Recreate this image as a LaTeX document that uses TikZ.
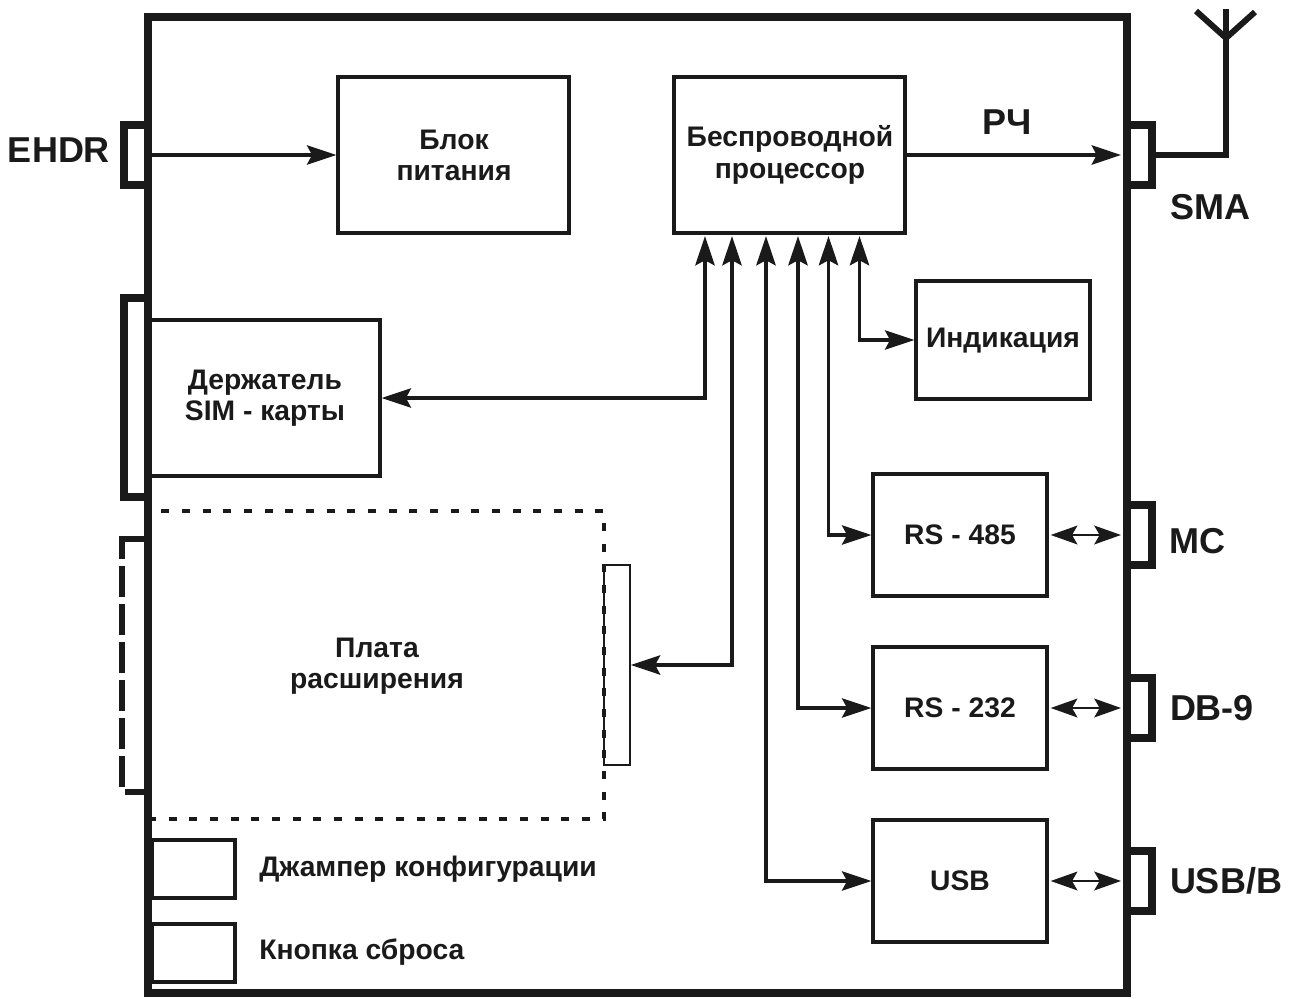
\documentclass[tikz,border=0pt]{standalone}
\usepackage{fontspec}
\setmainfont{Liberation Sans}
\usetikzlibrary{arrows.meta}
\definecolor{ink}{HTML}{1A1A1A}
\def\pxu{0.75pt}
\tikzset{
  lbl/.style={font=\fontsize{21.2pt}{23.5pt}\selectfont\bfseries,text=ink,align=center,inner sep=0pt},
  biglbl/.style={font=\fontsize{27pt}{30pt}\selectfont\bfseries,text=ink,inner sep=0pt},
  blk/.style={draw=ink,line width=2.5pt,rectangle,inner sep=0pt},
  port/.style={draw=ink,line width=6pt,rectangle,inner sep=0pt},
  hidden/.style={rectangle,inner sep=0pt},
  big/.style={-{Stealth[length=22pt,width=14.5pt,inset=3.8pt]},draw=ink,line width=2.6pt},
  bigbi/.style={{Stealth[length=22pt,width=14.5pt,inset=3.8pt]}-{Stealth[length=22pt,width=14.5pt,inset=3.8pt]},draw=ink,line width=2.6pt},
  small/.style={{Stealth[length=20pt,width=14pt,inset=4pt]}-{Stealth[length=20pt,width=14pt,inset=4pt]},draw=ink,line width=2.1pt},
  dims/.style 2 args={minimum width=#1*\pxu,minimum height=#2*\pxu}
}
\begin{document}
\begin{tikzpicture}[x=0.75pt,y=-0.75pt]
\useasboundingbox (0,0) rectangle (1297,999);
% blocks
\node[blk,dims={231}{156}] (power) at (453.5,155) {};
\node[lbl] (powert) at (454,155.5) {Блок\\питания};
\node[blk,dims={231}{156}] (proc) at (789.5,155) {};
\node[lbl] (proct) at (790,155) {Беспроводной\\процессор};
\node[blk,dims={174}{118}] (ind) at (1003,340) {};
\node[lbl] (indt) at (1003,341) {Индикация};
\node[blk,dims={232}{156}] (sim) at (264,398) {};
\node[lbl] (simt) at (265,398.5) {Держатель\\SIM - карты};
\node[blk,dims={174}{122}] (rsf) at (960,535) {};
\node[lbl] (rsft) at (960,535) {RS - 485};
\node[blk,dims={174}{122}] (rst) at (960,708) {};
\node[lbl] (rstt) at (960,708) {RS - 232};
\node[blk,dims={174}{122}] (usb) at (960,881) {};
\node[lbl] (usbt) at (960,881) {USB};
\node[blk,dims={83}{58}] (jump) at (193.5,869) {};
\node[blk,dims={83}{58}] (reset) at (193.5,953) {};
\node[lbl,anchor=west] (jumpt) at (259,869) {Джампер конфигурации};
\node[lbl,anchor=west] (resett) at (259,952) {Кнопка сброса};
% expansion board
\node[draw=ink,line width=1.3pt,rectangle,inner sep=0pt,dims={26}{200}] (card) at (617,665) {};
\node[rectangle,inner sep=0pt,draw=ink,line width=3.4pt,dash pattern=on 6pt off 9.5pt,dims={456}{308}] (ext) at (376,665) {};
\node[lbl] (extt) at (377,666) {Плата\\расширения};
% hidden box of the dashed port
\node[hidden,dims={26}{253}] (extc) at (135,665.5) {};
\draw[ink,line width=4.5pt] (148,539) -- (122,539) -- (122,559);
\draw[ink,line width=4.5pt,dash pattern=on 23.25pt off 5.25pt] (122,566) -- (122,788);
\draw[ink,line width=4.2pt] (125,792) -- (148,792);
% ports
\node[port,dims={24}{60}] (ehdr) at (136,155) {};
\node[port,dims={24}{199}] (simc) at (136,397.5) {};
\node[port,dims={25}{60}] (sma) at (1139.5,155) {};
\node[port,dims={25}{60}] (mc) at (1139.5,535) {};
\node[port,dims={25}{60}] (db) at (1139.5,708) {};
\node[port,dims={25}{60}] (usbb) at (1139.5,881) {};
% outer wall
\node[draw=ink,line width=6.2pt,rectangle,inner sep=0pt,dims={979}{976}] (wall) at (637.5,505) {};
% port labels
\node[biglbl] (ehdrt) at (59,150) {EHDR};
\node[biglbl] (smat) at (1210,207) {SMA};
\node[biglbl] (mct) at (1197,541) {MC};
\node[biglbl] (dbt) at (1212,708) {DB-9};
\node[biglbl] (usbbt) at (1226,881) {USB/B};
\node[biglbl] (rf) at (1007,122) {РЧ};
% bus coordinates
\coordinate (b1) at (705,236);
\coordinate (b2) at (732,236);
\coordinate (b3) at (766,236);
\coordinate (b4) at (798,236);
\coordinate (b5) at (828.5,236);
\coordinate (b6) at (859.5,236);
% connectors
\draw[big] (wall.west |- power.west) -- (power.west);
\draw[big,shorten >=1.5pt] (proc.east) -- (sma.west);
\draw[bigbi] (b1) |- (sim.east);
\draw[bigbi] (b2) |- (card.east);
\draw[bigbi] (b3) |- (usb.west);
\draw[bigbi] (b4) |- (rst.west);
\draw[bigbi] (b5) |- (rsf.west);
\draw[bigbi] (b6) |- (ind.west);
\draw[small,shorten >=1.5pt,shorten <=1.5pt] (rsf.east) -- (mc.west);
\draw[small,shorten >=1.5pt,shorten <=1.5pt] (rst.east) -- (db.west);
\draw[small,shorten >=1.5pt,shorten <=1.5pt] (usb.east) -- (usbb.west);
% antenna
\coordinate (anttop) at (1226,9);
\coordinate (antfork) at (1226,38);
\coordinate (antl) at (1196,11);
\coordinate (antr) at (1255,12);
\draw[ink,line width=4pt] (sma.east) -| (anttop);
\draw[ink,line width=4.5pt,line join=miter] (antl) -- (antfork) -- (antr);
\end{tikzpicture}
\end{document}
